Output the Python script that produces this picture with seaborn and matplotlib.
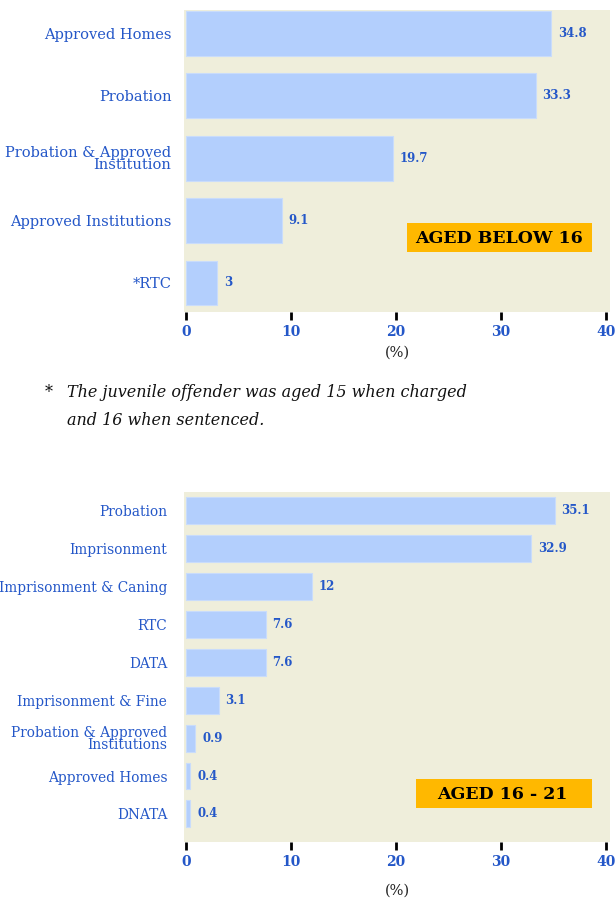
import numpy as np
import pandas as pd
import matplotlib
matplotlib.use("Agg")
import matplotlib.pyplot as plt
from matplotlib.patches import Rectangle
import seaborn as sns

# ---------- data ----------
below16_cats = ["Approved Homes", "Probation", "Probation & Approved\nInstitution",
                "Approved Institutions", "*RTC"]
below16_vals = [34.8, 33.3, 19.7, 9.1, 3]

aged16_21_cats = ["Probation", "Imprisonment", "Imprisonment & Caning", "RTC", "DATA",
                  "Imprisonment & Fine", "Probation & Approved\nInstitutions",
                  "Approved Homes", "DNATA"]
aged16_21_vals = [35.1, 32.9, 12, 7.6, 7.6, 3.1, 0.9, 0.4, 0.4]

x_ticks = [0, 10, 20, 30, 40]

# ---------- style ----------
sns.set_style("white")
plt.rcParams["font.family"] = ["DejaVu Serif"]

BAR = "#b3cffd"
BG = "#efeedb"
BLUE = "#2457c8"
ORANGE = "#ffb800"

fig = plt.figure(figsize=(6.16, 8.99), dpi=100)
ax1 = fig.add_axes([184 / 616, 1 - 312 / 899, 426 / 616, 302 / 899])
ax2 = fig.add_axes([184 / 616, 1 - 842 / 899, 426 / 616, 350 / 899])


def draw_panel(ax, cats, vals, ylim, width, ysize, ypad, xlabpad,
               tag, box, tag_xy):
    df = pd.DataFrame({"cat": cats, "val": vals})
    sns.barplot(data=df, x="val", y="cat", orient="h", color=BAR, saturation=1,
                width=width, edgecolor="#c9dcfb", linewidth=0.8, ax=ax)
    ax.set_facecolor(BG)
    for s in ax.spines.values():
        s.set_visible(False)
    ax.set_xlim(-0.19, 40.38)
    ax.set_ylim(*ylim)
    ax.set_xticks(x_ticks)
    ax.set_xticklabels([str(t) for t in x_ticks], fontweight="bold", color=BLUE,
                       fontsize=10)
    ax.tick_params(axis="x", direction="out", length=6, width=2, color="black", pad=3,
                   bottom=True)
    ax.tick_params(axis="y", length=0, pad=ypad, labelsize=ysize, labelcolor=BLUE)
    for lab in ax.get_yticklabels():
        lab.set_linespacing(0.85)
    ax.set_ylabel("")
    ax.set_xlabel("(%)", fontsize=10.5, color="#222222", labelpad=xlabpad)
    for i, v in enumerate(vals):
        ax.text(v + 0.65, i, f"{v:g}", va="center", ha="left", fontsize=8.5,
                fontweight="bold", color=BLUE)
    # orange tag box
    x0, x1, y0, y1 = box
    ax.add_patch(Rectangle((x0, y0), x1 - x0, y1 - y0, transform=ax.transAxes,
                           facecolor=ORANGE, edgecolor="none", zorder=3))
    ax.text(tag_xy[0], tag_xy[1], tag, transform=ax.transAxes, ha="center",
            va="center", fontsize=12.5, fontweight="bold", color="black", zorder=4)


draw_panel(ax1, below16_cats, below16_vals, (4.465, -0.377), 0.72, 10.5, 9, 5,
           "AGED BELOW 16", (0.523, 0.958, 0.199, 0.295), (0.739, 0.245))
draw_panel(ax2, aged16_21_cats, aged16_21_vals, (8.74, -0.49), 0.71, 9.9, 12, 11,
           "AGED 16 - 21", (0.544, 0.958, 0.097, 0.18), (0.748, 0.137))

# footnote
fig.text(45 / 616, 1 - 393 / 899, "*", fontsize=11.5, style="italic", va="center",
         color="#111111")
fig.text(67 / 616, 1 - 393 / 899, "The juvenile offender was aged 15 when charged",
         fontsize=11.5, style="italic", va="center", color="#111111")
fig.text(67 / 616, 1 - 420 / 899, "and 16 when sentenced.",
         fontsize=11.5, style="italic", va="center", color="#111111")

fig.savefig("out.png", dpi=100)
